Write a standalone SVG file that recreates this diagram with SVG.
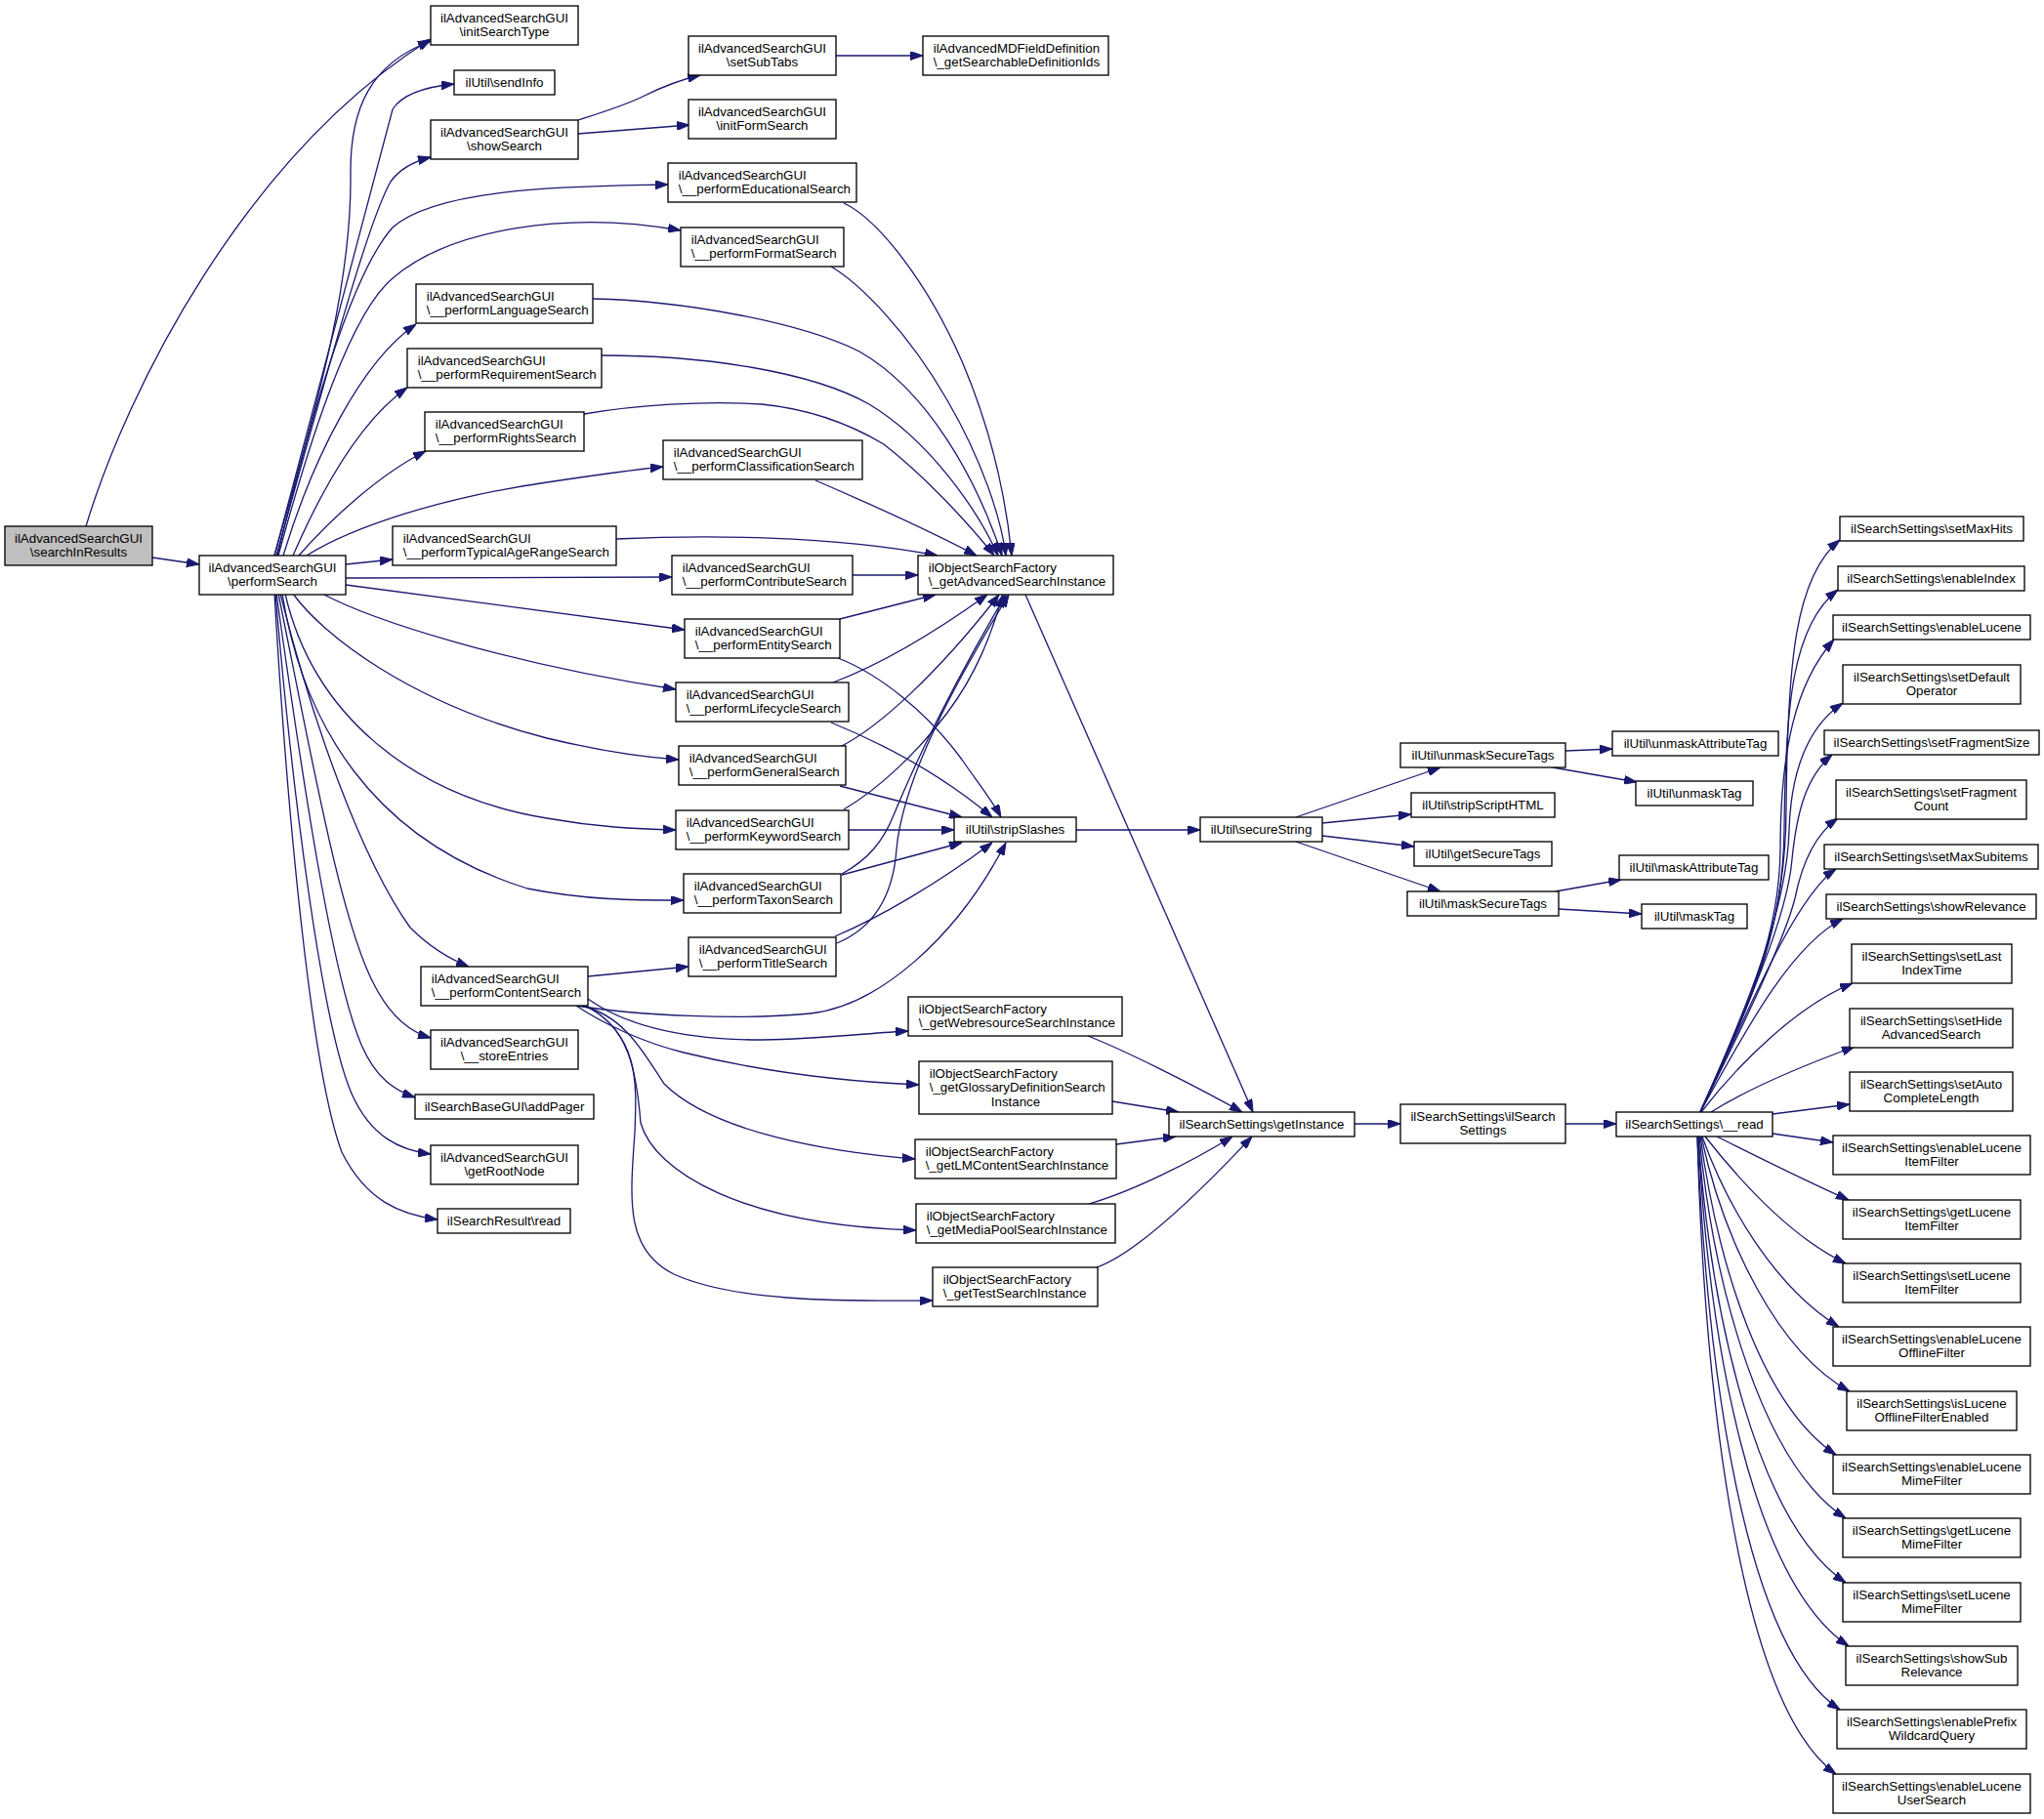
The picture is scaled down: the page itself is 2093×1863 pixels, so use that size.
<svg xmlns="http://www.w3.org/2000/svg" width="2093" height="1863" viewBox="0 0 2093 1863">
<defs>
<marker id="arr" viewBox="0 0 13 9" refX="13" refY="4.5" markerWidth="13" markerHeight="9" markerUnits="userSpaceOnUse" orient="auto"><path d="M0,0 L13,4.5 L0,9 Z" fill="#191970" stroke="#191970" stroke-width="1"/></marker>
<style>
.e path{fill:none;stroke:#191970;stroke-width:1.3;marker-end:url(#arr)}
.n rect{fill:#fff;stroke:#000;stroke-width:1.33}
.n rect.root{fill:#bfbfbf}
.n text{font-family:"Liberation Sans",Arial,Helvetica,sans-serif;font-size:13.33px;fill:#000}
.n text.c{text-anchor:middle}
</style>
</defs>
<rect width="2093" height="1863" fill="#fff"/>
<g id="edges" class="e">
<path d="M88,539 C130,400 250,160 441,40"/>
<path d="M156,571 L204,578"/>
<path d="M281,569 C320,430 360,300 359,180 C358,110 380,65 441,42"/>
<path d="M281,569 L402,112 C412,96 435,89 465,86"/>
<path d="M283,569 C330,400 375,230 400,186 C410,172 425,165 441,161"/>
<path d="M284,569 C320,420 360,280 402,233 C450,190 600,191 684,189"/>
<path d="M285,569 C320,440 360,320 402,285 C460,235 580,215 697,236"/>
<path d="M290,569 C320,470 370,370 426,332"/>
<path d="M300,569 C330,500 370,430 417,397"/>
<path d="M306,569 C340,530 390,485 436,462"/>
<path d="M314,569 C360,540 450,510 560,494 C600,488 640,482 679,478"/>
<path d="M354,578 L402,573"/>
<path d="M354,592 L688,591"/>
<path d="M354,599 L701,645"/>
<path d="M330,608 C380,635 520,680 692,706"/>
<path d="M300,608 C330,650 420,720 560,756 C610,768 650,775 695,778"/>
<path d="M292,608 C320,730 420,815 560,838 C610,847 650,849 692,850"/>
<path d="M289,608 C310,740 380,860 540,910 C600,922 650,922 700,922"/>
<path d="M287,608 C320,740 370,880 420,950 C440,970 460,982 480,990"/>
<path d="M285,608 C320,780 350,950 385,1012 C400,1040 420,1057 441,1063"/>
<path d="M283,608 C310,800 340,1000 370,1070 C385,1105 405,1117 425,1124"/>
<path d="M282,608 C300,820 330,1050 360,1120 C380,1165 410,1178 441,1182"/>
<path d="M281,608 C295,850 320,1100 350,1180 C375,1230 410,1244 448,1249"/>
<path d="M592,123 C620,114 640,108 660,98 C680,88 700,81 717,77"/>
<path d="M592,137 L706,128"/>
<path d="M856,57 L945,57"/>
<path d="M864,208 C900,225 950,290 985,370 C1015,440 1030,510 1036,569"/>
<path d="M851,273 C880,290 930,340 970,410 C1005,470 1025,530 1030,569"/>
<path d="M607,306 C700,308 820,330 880,360 C950,400 1000,490 1026,569"/>
<path d="M616,364 C720,364 830,380 890,414 C950,450 1000,520 1022,569"/>
<path d="M598,424 C650,415 720,410 780,414 C840,420 880,440 905,455 C950,490 995,540 1018,569"/>
<path d="M835,492 C900,520 960,548 1000,569"/>
<path d="M631,552 C720,548 850,548 960,569"/>
<path d="M873,589 L940,589"/>
<path d="M860,634 L958,609"/>
<path d="M853,699 C890,685 940,660 1011,609"/>
<path d="M860,765 C900,745 960,690 1023,609"/>
<path d="M864,829 C900,808 940,770 970,730 C1000,690 1015,650 1027,609"/>
<path d="M862,895 C890,880 905,860 915,835 C950,750 1000,660 1030,609"/>
<path d="M857,966 C900,948 915,910 918,870 C925,790 990,680 1033,609"/>
<path d="M1050,609 L1283,1139"/>
<path d="M858,674 C900,690 950,730 985,778 C1000,800 1015,818 1025,837"/>
<path d="M851,740 C900,760 960,790 1016,837"/>
<path d="M860,805 L985,837"/>
<path d="M869,850 L977,850"/>
<path d="M862,896 L985,863"/>
<path d="M855,959 C900,940 960,905 1016,863"/>
<path d="M590,1030 C650,1040 760,1045 830,1038 C900,1030 980,960 1030,863"/>
<path d="M1102,850 L1229,850"/>
<path d="M1327,837 L1475,786"/>
<path d="M1354,843 L1445,834"/>
<path d="M1354,856 L1448,867"/>
<path d="M1327,862 L1475,913"/>
<path d="M1603,769 L1651,767"/>
<path d="M1590,786 L1676,801"/>
<path d="M1593,913 L1660,901"/>
<path d="M1596,931 L1681,936"/>
<path d="M1114,1061 C1150,1075 1220,1110 1272,1139"/>
<path d="M1139,1128 L1207,1139"/>
<path d="M1143,1172 L1204,1164"/>
<path d="M1115,1233 C1160,1220 1220,1190 1262,1164"/>
<path d="M1123,1298 C1160,1285 1220,1230 1282,1164"/>
<path d="M1387,1151 L1434,1151"/>
<path d="M1603,1151 L1655,1151"/>
<path d="M602,1000 L705,990"/>
<path d="M602,1023 C640,1050 700,1065 780,1065 C840,1064 890,1058 930,1056"/>
<path d="M590,1030 C620,1050 660,1068 700,1078 C790,1100 870,1108 941,1111"/>
<path d="M595,1030 C640,1040 660,1080 680,1110 C730,1160 850,1180 937,1187"/>
<path d="M598,1030 C645,1050 652,1100 656,1150 C670,1200 760,1255 938,1260"/>
<path d="M600,1030 C655,1060 652,1110 650,1160 C645,1230 640,1280 690,1305 C750,1332 850,1333 955,1332"/>
<path d="M1741,1139 C1790,1030 1828,960 1829,830 C1830,680 1838,590 1884,553"/>
<path d="M1741,1139 C1790,1030 1826,960 1827,850 C1828,720 1836,640 1882,604"/>
<path d="M1741,1139 C1790,1030 1822,960 1823,870 C1823,770 1838,700 1878,655"/>
<path d="M1741,1139 C1790,1030 1830,930 1832,850 C1834,790 1850,745 1887,720"/>
<path d="M1741,1139 C1790,1030 1830,940 1835,880 C1840,830 1850,795 1876,773"/>
<path d="M1741,1139 C1790,1040 1828,960 1838,920 C1845,885 1858,855 1882,838"/>
<path d="M1741,1139 C1780,1060 1835,920 1880,890"/>
<path d="M1741,1139 C1780,1070 1830,970 1887,941"/>
<path d="M1742,1139 C1780,1090 1840,1030 1897,1007"/>
<path d="M1752,1139 C1790,1115 1850,1090 1899,1072"/>
<path d="M1815,1141 L1894,1131"/>
<path d="M1815,1161 L1877,1170"/>
<path d="M1758,1164 C1800,1185 1850,1210 1893,1229"/>
<path d="M1746,1164 C1790,1220 1840,1270 1890,1294"/>
<path d="M1743,1164 C1770,1240 1820,1320 1883,1359"/>
<path d="M1742,1164 C1765,1270 1820,1385 1894,1425"/>
<path d="M1741,1164 C1760,1300 1805,1440 1880,1490"/>
<path d="M1740,1164 C1755,1320 1805,1500 1890,1555"/>
<path d="M1739,1164 C1752,1350 1800,1560 1890,1621"/>
<path d="M1739,1164 C1750,1380 1795,1620 1893,1686"/>
<path d="M1738,1164 C1748,1400 1785,1685 1884,1751"/>
<path d="M1738,1164 C1745,1420 1780,1745 1880,1817"/>
</g>
<g class="n">
<g id="n_searchInResults"><rect class="root" x="5" y="539" width="151" height="40"/><text class="c" x="80.5" y="555.5">ilAdvancedSearchGUI</text><text class="c" x="80.5" y="570.2">\searchInResults</text></g>
<g id="n_performSearch"><rect x="204" y="569" width="150" height="40"/><text class="c" x="279" y="585.5">ilAdvancedSearchGUI</text><text class="c" x="279" y="600.2">\performSearch</text></g>
<g id="n_initSearchType"><rect x="441" y="6" width="151" height="40"/><text class="c" x="516.5" y="22.5">ilAdvancedSearchGUI</text><text class="c" x="516.5" y="37.2">\initSearchType</text></g>
<g id="n_sendInfo"><rect x="465" y="72" width="103" height="25"/><text class="c" x="516.5" y="89.2">ilUtil\sendInfo</text></g>
<g id="n_showSearch"><rect x="441" y="123" width="151" height="40"/><text class="c" x="516.5" y="139.5">ilAdvancedSearchGUI</text><text class="c" x="516.5" y="154.2">\showSearch</text></g>
<g id="n_setSubTabs"><rect x="705" y="37" width="151" height="40"/><text class="c" x="780.5" y="53.5">ilAdvancedSearchGUI</text><text class="c" x="780.5" y="68.2">\setSubTabs</text></g>
<g id="n_getSearchableDefinitionIds"><rect x="945" y="37" width="190" height="40"/><text x="955.7" y="53.5">ilAdvancedMDFieldDefinition</text><text x="955.7" y="68.2">\_getSearchableDefinitionIds</text></g>
<g id="n_initFormSearch"><rect x="705" y="102" width="151" height="40"/><text class="c" x="780.5" y="118.5">ilAdvancedSearchGUI</text><text class="c" x="780.5" y="133.2">\initFormSearch</text></g>
<g id="n_educational"><rect x="684" y="167" width="193" height="40"/><text x="694.7" y="183.5">ilAdvancedSearchGUI</text><text x="694.7" y="198.2">\__performEducationalSearch</text></g>
<g id="n_format"><rect x="697" y="233" width="167" height="40"/><text x="707.7" y="249.5">ilAdvancedSearchGUI</text><text x="707.7" y="264.2">\__performFormatSearch</text></g>
<g id="n_language"><rect x="426" y="291" width="181" height="40"/><text x="436.7" y="307.5">ilAdvancedSearchGUI</text><text x="436.7" y="322.2">\__performLanguageSearch</text></g>
<g id="n_requirement"><rect x="417" y="357" width="199" height="40"/><text x="427.7" y="373.5">ilAdvancedSearchGUI</text><text x="427.7" y="388.2">\__performRequirementSearch</text></g>
<g id="n_rights"><rect x="435" y="422" width="163" height="40"/><text x="445.7" y="438.5">ilAdvancedSearchGUI</text><text x="445.7" y="453.2">\__performRightsSearch</text></g>
<g id="n_classification"><rect x="679" y="451" width="204" height="40"/><text x="689.7" y="467.5">ilAdvancedSearchGUI</text><text x="689.7" y="482.2">\__performClassificationSearch</text></g>
<g id="n_typicalAge"><rect x="402" y="539" width="229" height="40"/><text x="412.7" y="555.5">ilAdvancedSearchGUI</text><text x="412.7" y="570.2">\__performTypicalAgeRangeSearch</text></g>
<g id="n_contribute"><rect x="688" y="569" width="185" height="40"/><text x="698.7" y="585.5">ilAdvancedSearchGUI</text><text x="698.7" y="600.2">\__performContributeSearch</text></g>
<g id="n_getAdvancedSearchInstance"><rect x="940" y="569" width="200" height="40"/><text x="950.7" y="585.5">ilObjectSearchFactory</text><text x="950.7" y="600.2">\_getAdvancedSearchInstance</text></g>
<g id="n_entity"><rect x="701" y="634" width="159" height="40"/><text x="711.7" y="650.5">ilAdvancedSearchGUI</text><text x="711.7" y="665.2">\__performEntitySearch</text></g>
<g id="n_lifecycle"><rect x="692" y="699" width="177" height="40"/><text x="702.7" y="715.5">ilAdvancedSearchGUI</text><text x="702.7" y="730.2">\__performLifecycleSearch</text></g>
<g id="n_general"><rect x="695" y="764" width="171" height="40"/><text x="705.7" y="780.5">ilAdvancedSearchGUI</text><text x="705.7" y="795.2">\__performGeneralSearch</text></g>
<g id="n_keyword"><rect x="692" y="830" width="177" height="40"/><text x="702.7" y="846.5">ilAdvancedSearchGUI</text><text x="702.7" y="861.2">\__performKeywordSearch</text></g>
<g id="n_taxon"><rect x="700" y="895" width="161" height="40"/><text x="710.7" y="911.5">ilAdvancedSearchGUI</text><text x="710.7" y="926.2">\__performTaxonSearch</text></g>
<g id="n_title"><rect x="705" y="960" width="151" height="40"/><text x="715.7" y="976.5">ilAdvancedSearchGUI</text><text x="715.7" y="991.2">\__performTitleSearch</text></g>
<g id="n_stripSlashes"><rect x="977" y="837" width="125" height="25"/><text class="c" x="1039.5" y="854.2">ilUtil\stripSlashes</text></g>
<g id="n_secureString"><rect x="1229" y="837" width="125" height="25"/><text class="c" x="1291.5" y="854.2">ilUtil\secureString</text></g>
<g id="n_contentSearch"><rect x="431" y="990" width="171" height="40"/><text x="441.7" y="1006.5">ilAdvancedSearchGUI</text><text x="441.7" y="1021.2">\__performContentSearch</text></g>
<g id="n_storeEntries"><rect x="441" y="1055" width="151" height="40"/><text class="c" x="516.5" y="1071.5">ilAdvancedSearchGUI</text><text class="c" x="516.5" y="1086.2">\__storeEntries</text></g>
<g id="n_addPager"><rect x="425" y="1121" width="183" height="25"/><text class="c" x="516.5" y="1138.2">ilSearchBaseGUI\addPager</text></g>
<g id="n_getRootNode"><rect x="441" y="1173" width="151" height="40"/><text class="c" x="516.5" y="1189.5">ilAdvancedSearchGUI</text><text class="c" x="516.5" y="1204.2">\getRootNode</text></g>
<g id="n_searchResultRead"><rect x="448" y="1238" width="136" height="25"/><text class="c" x="516" y="1255.2">ilSearchResult\read</text></g>
<g id="n_webresource"><rect x="930" y="1021" width="219" height="40"/><text x="940.7" y="1037.5">ilObjectSearchFactory</text><text x="940.7" y="1052.2">\_getWebresourceSearchInstance</text></g>
<g id="n_glossary"><rect x="941" y="1087" width="198" height="54"/><text x="951.7" y="1103.5">ilObjectSearchFactory</text><text x="951.7" y="1118.2">\_getGlossaryDefinitionSearch</text><text class="c" x="1040" y="1132.9">Instance</text></g>
<g id="n_lmcontent"><rect x="937" y="1167" width="206" height="40"/><text x="947.7" y="1183.5">ilObjectSearchFactory</text><text x="947.7" y="1198.2">\_getLMContentSearchInstance</text></g>
<g id="n_mediapool"><rect x="938" y="1233" width="204" height="40"/><text x="948.7" y="1249.5">ilObjectSearchFactory</text><text x="948.7" y="1264.2">\_getMediaPoolSearchInstance</text></g>
<g id="n_testsearch"><rect x="955" y="1298" width="169" height="40"/><text x="965.7" y="1314.5">ilObjectSearchFactory</text><text x="965.7" y="1329.2">\_getTestSearchInstance</text></g>
<g id="n_getInstance"><rect x="1197" y="1139" width="190" height="25"/><text class="c" x="1292" y="1156.2">ilSearchSettings\getInstance</text></g>
<g id="n_ctor"><rect x="1434" y="1131" width="169" height="40"/><text class="c" x="1518.5" y="1147.5">ilSearchSettings\ilSearch</text><text class="c" x="1518.5" y="1162.2">Settings</text></g>
<g id="n_read"><rect x="1655" y="1139" width="160" height="25"/><text class="c" x="1735" y="1156.2">ilSearchSettings\__read</text></g>
<g id="n_unmaskSecureTags"><rect x="1434" y="761" width="169" height="25"/><text class="c" x="1518.5" y="778.2">ilUtil\unmaskSecureTags</text></g>
<g id="n_stripScriptHTML"><rect x="1445" y="812" width="147" height="25"/><text class="c" x="1518.5" y="829.2">ilUtil\stripScriptHTML</text></g>
<g id="n_getSecureTags"><rect x="1448" y="862" width="141" height="25"/><text class="c" x="1518.5" y="879.2">ilUtil\getSecureTags</text></g>
<g id="n_maskSecureTags"><rect x="1441" y="913" width="155" height="25"/><text class="c" x="1518.5" y="930.2">ilUtil\maskSecureTags</text></g>
<g id="n_unmaskAttributeTag"><rect x="1651" y="749" width="170" height="25"/><text class="c" x="1736" y="766.2">ilUtil\unmaskAttributeTag</text></g>
<g id="n_unmaskTag"><rect x="1675" y="800" width="120" height="25"/><text class="c" x="1735" y="817.2">ilUtil\unmaskTag</text></g>
<g id="n_maskAttributeTag"><rect x="1658" y="876" width="153" height="25"/><text class="c" x="1734.5" y="893.2">ilUtil\maskAttributeTag</text></g>
<g id="n_maskTag"><rect x="1681" y="926" width="108" height="25"/><text class="c" x="1735" y="943.2">ilUtil\maskTag</text></g>
<g id="n_setMaxHits"><rect x="1884" y="529" width="188" height="25"/><text class="c" x="1978" y="546.2">ilSearchSettings\setMaxHits</text></g>
<g id="n_enableIndex"><rect x="1882" y="580" width="191" height="25"/><text class="c" x="1977.5" y="597.2">ilSearchSettings\enableIndex</text></g>
<g id="n_enableLucene"><rect x="1877" y="630" width="202" height="25"/><text class="c" x="1978" y="647.2">ilSearchSettings\enableLucene</text></g>
<g id="n_setDefaultOperator"><rect x="1887" y="681" width="182" height="40"/><text class="c" x="1978" y="697.5">ilSearchSettings\setDefault</text><text class="c" x="1978" y="712.2">Operator</text></g>
<g id="n_setFragmentSize"><rect x="1868" y="748" width="220" height="25"/><text class="c" x="1978" y="765.2">ilSearchSettings\setFragmentSize</text></g>
<g id="n_setFragmentCount"><rect x="1880" y="799" width="195" height="40"/><text class="c" x="1977.5" y="815.5">ilSearchSettings\setFragment</text><text class="c" x="1977.5" y="830.2">Count</text></g>
<g id="n_setMaxSubitems"><rect x="1868" y="865" width="219" height="25"/><text class="c" x="1977.5" y="882.2">ilSearchSettings\setMaxSubitems</text></g>
<g id="n_showRelevance"><rect x="1870" y="916" width="215" height="25"/><text class="c" x="1977.5" y="933.2">ilSearchSettings\showRelevance</text></g>
<g id="n_setLastIndexTime"><rect x="1896" y="967" width="164" height="40"/><text class="c" x="1978" y="983.5">ilSearchSettings\setLast</text><text class="c" x="1978" y="998.2">IndexTime</text></g>
<g id="n_setHideAdvancedSearch"><rect x="1894" y="1033" width="167" height="40"/><text class="c" x="1977.5" y="1049.5">ilSearchSettings\setHide</text><text class="c" x="1977.5" y="1064.2">AdvancedSearch</text></g>
<g id="n_setAutoCompleteLength"><rect x="1894" y="1098" width="167" height="40"/><text class="c" x="1977.5" y="1114.5">ilSearchSettings\setAuto</text><text class="c" x="1977.5" y="1129.2">CompleteLength</text></g>
<g id="n_enableLuceneItemFilter"><rect x="1877" y="1163" width="202" height="40"/><text class="c" x="1978" y="1179.5">ilSearchSettings\enableLucene</text><text class="c" x="1978" y="1194.2">ItemFilter</text></g>
<g id="n_getLuceneItemFilter"><rect x="1887" y="1229" width="182" height="40"/><text class="c" x="1978" y="1245.5">ilSearchSettings\getLucene</text><text class="c" x="1978" y="1260.2">ItemFilter</text></g>
<g id="n_setLuceneItemFilter"><rect x="1887" y="1294" width="182" height="40"/><text class="c" x="1978" y="1310.5">ilSearchSettings\setLucene</text><text class="c" x="1978" y="1325.2">ItemFilter</text></g>
<g id="n_enableLuceneOfflineFilter"><rect x="1877" y="1359" width="202" height="40"/><text class="c" x="1978" y="1375.5">ilSearchSettings\enableLucene</text><text class="c" x="1978" y="1390.2">OfflineFilter</text></g>
<g id="n_isLuceneOfflineFilterEnabled"><rect x="1891" y="1425" width="174" height="40"/><text class="c" x="1978" y="1441.5">ilSearchSettings\isLucene</text><text class="c" x="1978" y="1456.2">OfflineFilterEnabled</text></g>
<g id="n_enableLuceneMimeFilter"><rect x="1877" y="1490" width="202" height="40"/><text class="c" x="1978" y="1506.5">ilSearchSettings\enableLucene</text><text class="c" x="1978" y="1521.2">MimeFilter</text></g>
<g id="n_getLuceneMimeFilter"><rect x="1887" y="1555" width="182" height="40"/><text class="c" x="1978" y="1571.5">ilSearchSettings\getLucene</text><text class="c" x="1978" y="1586.2">MimeFilter</text></g>
<g id="n_setLuceneMimeFilter"><rect x="1887" y="1621" width="182" height="40"/><text class="c" x="1978" y="1637.5">ilSearchSettings\setLucene</text><text class="c" x="1978" y="1652.2">MimeFilter</text></g>
<g id="n_showSubRelevance"><rect x="1890" y="1686" width="176" height="40"/><text class="c" x="1978" y="1702.5">ilSearchSettings\showSub</text><text class="c" x="1978" y="1717.2">Relevance</text></g>
<g id="n_enablePrefixWildcardQuery"><rect x="1881" y="1751" width="194" height="40"/><text class="c" x="1978" y="1767.5">ilSearchSettings\enablePrefix</text><text class="c" x="1978" y="1782.2">WildcardQuery</text></g>
<g id="n_enableLuceneUserSearch"><rect x="1877" y="1817" width="202" height="40"/><text class="c" x="1978" y="1833.5">ilSearchSettings\enableLucene</text><text class="c" x="1978" y="1848.2">UserSearch</text></g>
</g>
</svg>
